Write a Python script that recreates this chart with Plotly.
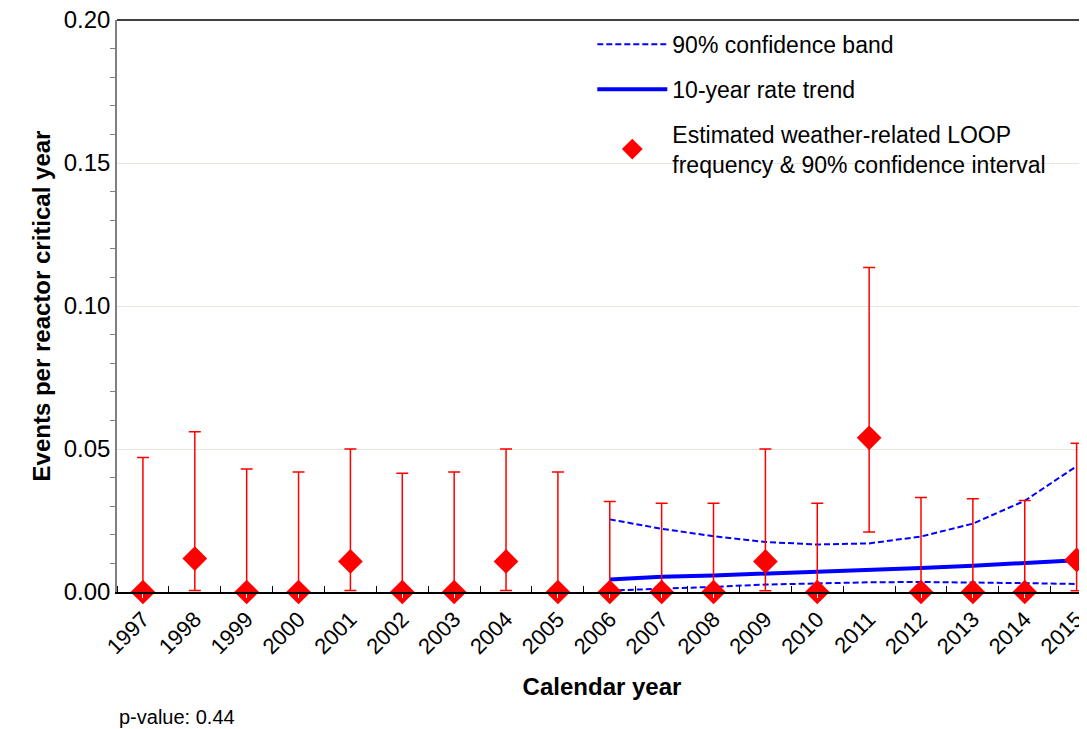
import plotly.graph_objects as go

years = list(range(1997, 2016))
freq = [0, 0.0117, 0, 0, 0.0107, 0, 0, 0.0107, 0, 0, 0, 0, 0.0107, 0, 0.0539, 0, 0, 0, 0.0112]
upper = [0.047, 0.056, 0.043, 0.042, 0.050, 0.0415, 0.042, 0.050, 0.042, 0.0316,
         0.031, 0.031, 0.050, 0.031, 0.1135, 0.033, 0.0326, 0.032, 0.052]
lower = [0, 0.0005, 0, 0, 0.0005, 0, 0, 0.0005, 0, 0, 0, 0, 0.0004, 0, 0.021, 0, 0, 0, 0.0004]

trend_years = list(range(2006, 2016))
trend = [0.0044, 0.0053, 0.0058, 0.0064, 0.0070, 0.0077, 0.0084, 0.0092, 0.0100, 0.0111]
band_hi = [0.0254, 0.0221, 0.0195, 0.0175, 0.0166, 0.0170, 0.0194, 0.0239, 0.0319, 0.0440]
band_lo = [0.0005, 0.0011, 0.0018, 0.0026, 0.0031, 0.0034, 0.0035, 0.0034, 0.0031, 0.0028]

dash = "6px,3px"
fig = go.Figure()
fig.add_trace(go.Scatter(x=trend_years, y=band_hi, mode="lines", name="90% confidence band",
                         line=dict(color="blue", width=2, dash=dash), legendgroup="a",
                         cliponaxis=False))
fig.add_trace(go.Scatter(x=trend_years, y=band_lo, mode="lines", showlegend=False,
                         line=dict(color="blue", width=2, dash=dash), legendgroup="a",
                         cliponaxis=False))
fig.add_trace(go.Scatter(x=trend_years, y=trend, mode="lines", name="10-year rate trend",
                         line=dict(color="blue", width=4), legendgroup="b", cliponaxis=False))
fig.add_trace(go.Scatter(
    x=years, y=freq, mode="markers", legendgroup="c", cliponaxis=False,
    name="Estimated weather-related LOOP<br>frequency & 90% confidence interval",
    marker=dict(symbol="diamond", color="red", size=19),
    error_y=dict(type="data", symmetric=False,
                 array=[u - f for u, f in zip(upper, freq)],
                 arrayminus=[f - l for f, l in zip(freq, lower)],
                 color="red", thickness=1.5, width=6)))

fig.add_shape(type="line", xref="paper", yref="paper", x0=0, x1=1, y0=1, y1=1,
              line=dict(color="black", width=1.5))
fig.add_annotation(text="p-value: 0.44", xref="paper", yref="paper", x=0, y=-0.218,
                   xanchor="left", yanchor="middle", showarrow=False,
                   font=dict(size=20, color="black"))

fig.update_layout(
    width=1079, height=721,
    margin=dict(l=109, r=0, t=12, b=137),
    plot_bgcolor="white", paper_bgcolor="white",
    font=dict(family="Arial, Liberation Sans", color="black"),
    showlegend=True,
    legend=dict(x=0.49, y=0.995, xanchor="left", yanchor="top", font=dict(size=23),
                tracegroupgap=12, itemwidth=70, bgcolor="rgba(0,0,0,0)"),
    xaxis=dict(range=[1996.5, 2015.2], tickvals=years, tickangle=-45, automargin=False,
               ticklabeloverflow="allow", ticks="outside", ticklen=4, tickcolor="white",
               tickfont=dict(size=22), showgrid=False, zeroline=False,
               showline=True, linecolor="black", linewidth=1.5,
               minor=dict(tick0=1996.5, dtick=1, ticks="inside", ticklen=6, tickcolor="black"),
               title=dict(text="<b>Calendar year</b>", font=dict(size=24), standoff=20)),
    yaxis=dict(range=[0, 0.2], dtick=0.05, tickformat=".2f", tickfont=dict(size=24),
               showgrid=True, gridcolor="#e8e6da", zeroline=False, automargin=False,
               ticklabeloverflow="allow",
               showline=True, linecolor="gray", linewidth=1.5, ticks="outside",
               ticklen=0, minor=dict(dtick=0.01, ticks="outside", ticklen=5, tickcolor="gray",
                                     showgrid=False),
               title=dict(text="<b>Events per reactor critical year</b>", font=dict(size=24),
                          standoff=6)),
)

fig.write_html("out.html")
